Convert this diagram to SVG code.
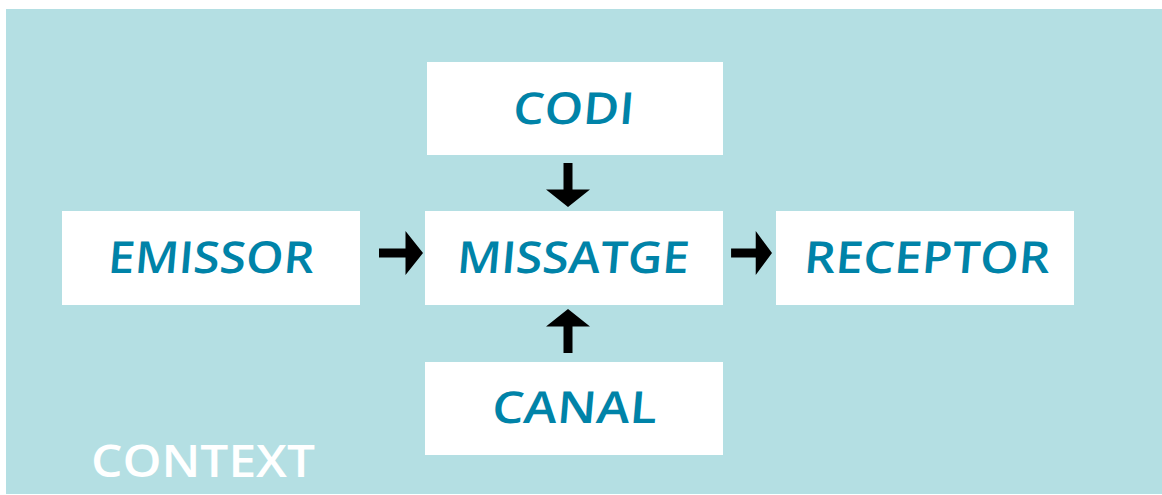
<svg xmlns="http://www.w3.org/2000/svg" width="1162" height="495" viewBox="0 0 1162 495">
  <style>
    .box { fill: #ffffff; }
    .label { font-family: "Open Sans", "Noto Sans", "Liberation Sans", sans-serif; font-weight: 600; font-size: 44px; fill: #0083a8; text-anchor: middle; }
    .context { font-family: "Open Sans", "Noto Sans", "Liberation Sans", sans-serif; font-weight: 600; font-size: 45px; fill: #ffffff; }
    .arrow { fill: #000000; }
  </style>
  <defs>
    <!-- block arrow pointing right, tip at the origin -->
    <path id="blockArrow" d="M -44 -4.5 L -17.5 -4.5 L -17.5 -22 L 0 0 L -17.5 22 L -17.5 4.5 L -44 4.5 Z"/>
  </defs>

  <!-- context backdrop -->
  <rect x="6" y="9" width="1156" height="485" fill="#b4dfe3"/>
  <text class="context" x="91" y="477" textLength="224" lengthAdjust="spacingAndGlyphs">CONTEXT</text>

  <g id="codi">
    <rect class="box" x="427" y="62" width="296" height="93"/>
    <text class="label" transform="translate(572.5 124) skewX(-5)" textLength="121" lengthAdjust="spacingAndGlyphs">CODI</text>
  </g>
  <g id="emissor">
    <rect class="box" x="62" y="211" width="298" height="94"/>
    <text class="label" transform="translate(210 272.5) skewX(-5)" textLength="206" lengthAdjust="spacingAndGlyphs">EMISSOR</text>
  </g>
  <g id="missatge">
    <rect class="box" x="425" y="211" width="298" height="94"/>
    <text class="label" transform="translate(572 272.5) skewX(-5)" textLength="232" lengthAdjust="spacingAndGlyphs">MISSATGE</text>
  </g>
  <g id="receptor">
    <rect class="box" x="776" y="211" width="298" height="94"/>
    <text class="label" transform="translate(926 273) skewX(-5)" textLength="246" lengthAdjust="spacingAndGlyphs">RECEPTOR</text>
  </g>
  <g id="canal">
    <rect class="box" x="425" y="362" width="298" height="93"/>
    <text class="label" transform="translate(573.5 423) skewX(-5)" textLength="165" lengthAdjust="spacingAndGlyphs">CANAL</text>
  </g>

  <g id="connectors" class="arrow">
    <use href="#blockArrow" transform="translate(568 207) rotate(90)"/>
    <use href="#blockArrow" transform="translate(423 253)"/>
    <use href="#blockArrow" transform="translate(772 253) scale(0.93 1)"/>
    <use href="#blockArrow" transform="translate(568 309) rotate(-90)"/>
  </g>
</svg>
